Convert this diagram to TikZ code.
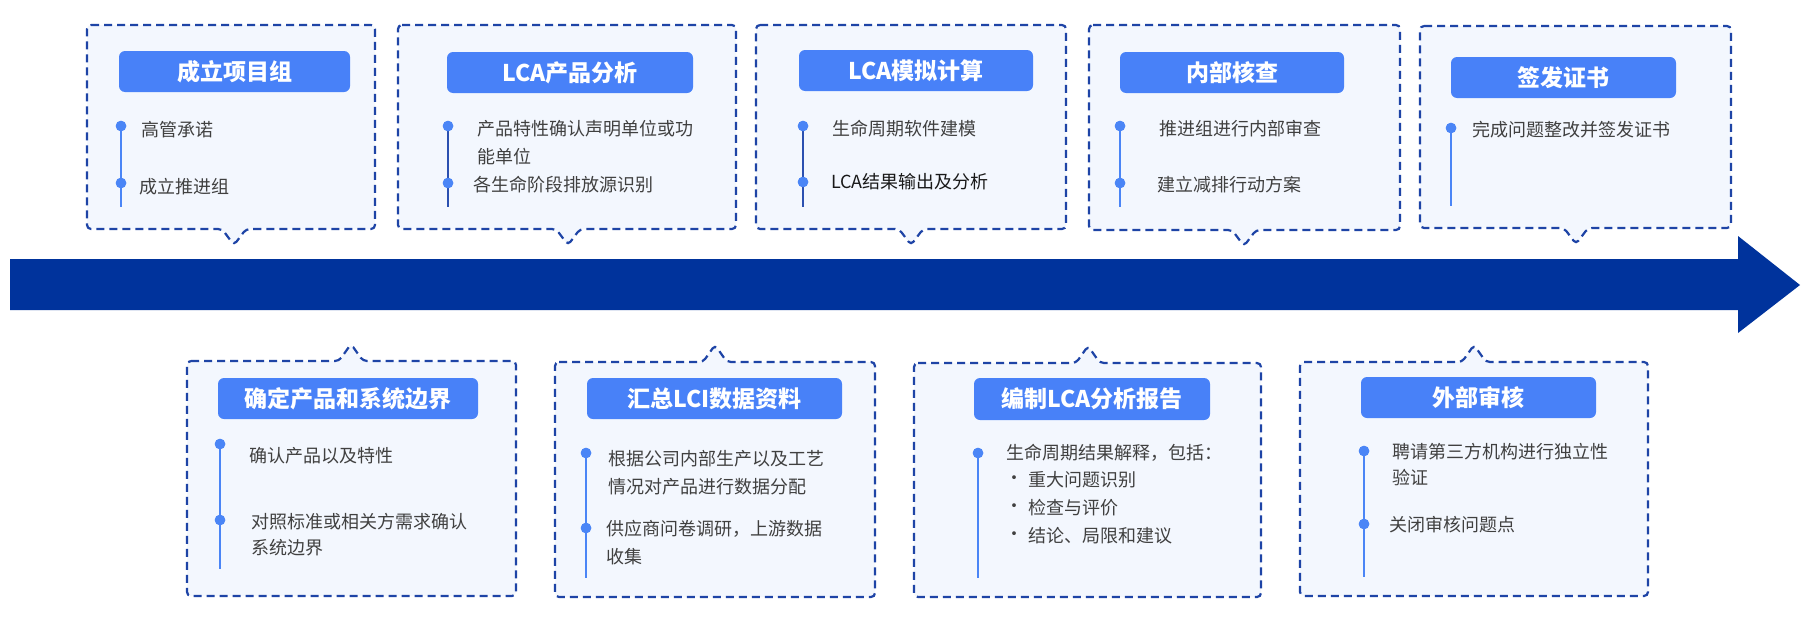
\documentclass[tikz,border=0pt]{standalone}
\usepackage{fontspec}
\setmainfont{Noto Sans CJK SC}
\definecolor{arrowblue}{RGB}{0,51,156}
\definecolor{borderblue}{RGB}{30,68,166}
\definecolor{boxfill}{RGB}{243,247,254}
\definecolor{pillblue}{RGB}{72,129,248}
\definecolor{dotblue}{RGB}{74,133,246}
\definecolor{darkline}{RGB}{43,80,176}
\definecolor{txtgray}{RGB}{64,64,64}
\tikzset{
  panel/.style={draw=borderblue, fill=boxfill, line width=2.2pt, dash pattern=on 8pt off 5pt, rounded corners=4pt},
  pill/.style={fill=pillblue, rounded corners=6pt, inner sep=0pt, text=white, font=\fontsize{23}{28}\selectfont\bfseries},
  itemtext/.style={anchor=west, inner sep=0pt, text=txtgray, font=\fontsize{18}{28}\selectfont},
  bdot/.style={circle, fill=dotblue, inner sep=0pt, minimum size=10.5pt},
  tline/.style={draw=dotblue, line width=2pt},
  tlinedark/.style={draw=darkline, line width=2pt}
}
\begin{document}
\begin{tikzpicture}[x=1pt,y=-1pt]
\useasboundingbox (0,0) rectangle (1806,616);
\fill[white] (0,0) rectangle (1806,616);

% main arrow
\fill[arrowblue] (10,259) -- (1738,259) -- (1738,236) -- (1800,285) -- (1738,333) -- (1738,310) -- (10,310) -- cycle;

% ---------- top panels ----------
\draw[panel] (87,25) -- (375,25) -- (375,229) -- (246,229) -- (234,245) -- (222,229) -- (87,229) -- cycle;
\draw[panel] (398,25) -- (736,25) -- (736,229) -- (580,229) -- (568,245) -- (556,229) -- (398,229) -- cycle;
\draw[panel] (756,25) -- (1066,25) -- (1066,229) -- (923,229) -- (911,245) -- (899,229) -- (756,229) -- cycle;
\draw[panel] (1089,25) -- (1400,25) -- (1400,230) -- (1256,230) -- (1244,246) -- (1232,230) -- (1089,230) -- cycle;
\draw[panel] (1420,26) -- (1731,26) -- (1731,228) -- (1588,228) -- (1576,244) -- (1564,228) -- (1420,228) -- cycle;

% ---------- bottom panels ----------
\draw[panel] (187,361) -- (339,361) -- (351,344) -- (363,361) -- (516,361) -- (516,596) -- (187,596) -- cycle;
\draw[panel] (555,362) -- (703,362) -- (715,345) -- (727,362) -- (875,362) -- (875,597) -- (555,597) -- cycle;
\draw[panel] (914,363) -- (1076,363) -- (1088,346) -- (1100,363) -- (1261,363) -- (1261,597) -- (914,597) -- cycle;
\draw[panel] (1300,362) -- (1462,362) -- (1474,345) -- (1486,362) -- (1648,362) -- (1648,596) -- (1300,596) -- cycle;

% ---------- titles ----------
\node[pill, minimum width=231pt, minimum height=41pt] (t1h) at (234.5,71.5) {成立项目组};
\node[pill, minimum width=246pt, minimum height=41pt] (t2h) at (570,72.5) {LCA产品分析};
\node[pill, minimum width=234pt, minimum height=41pt] (t3h) at (916,70.5) {LCA模拟计算};
\node[pill, minimum width=224pt, minimum height=41pt] (t4h) at (1232,72.5) {内部核查};
\node[pill, minimum width=225pt, minimum height=41pt] (t5h) at (1563.5,77.5) {签发证书};
\node[pill, minimum width=260pt, minimum height=41pt] (b1h) at (348,398.5) {确定产品和系统边界};
\node[pill, minimum width=255pt, minimum height=41pt] (b2h) at (714.5,398.5) {汇总LCI数据资料};
\node[pill, minimum width=236pt, minimum height=42pt] (b3h) at (1092,399) {编制LCA分析报告};
\node[pill, minimum width=235pt, minimum height=41pt] (b4h) at (1478.5,397.5) {外部审核};

% ---------- panel T1 ----------
\coordinate (t1e) at (121,207);
\node[bdot] (t1d1) at (121,126) {};
\node[bdot] (t1d2) at (121,183) {};
\draw[tline] (t1d1.center) -- (t1e);
\node[bdot] at (t1d1) {};
\node[bdot] at (t1d2) {};
\node[itemtext] (t1a) at (141,130) {高管承诺};
\node[itemtext] (t1b) at (139,187) {成立推进组};

% ---------- panel T2 ----------
\coordinate (t2e) at (448,207);
\node[bdot] (t2d1) at (448,126) {};
\node[bdot] (t2d2) at (448,183) {};
\draw[tlinedark] (t2d1.center) -- (t2e);
\node[bdot] at (t2d1) {};
\node[bdot] at (t2d2) {};
\node[itemtext] (t2a) at (477,129) {产品特性确认声明单位或功};
\node[itemtext] (t2a2) at (477,157) {能单位};
\node[itemtext] (t2b) at (473,185) {各生命阶段排放源识别};

% ---------- panel T3 ----------
\coordinate (t3e) at (803,207);
\node[bdot] (t3d1) at (803,126) {};
\node[bdot] (t3d2) at (803,182) {};
\draw[tlinedark] (t3d1.center) -- (t3e);
\node[bdot] at (t3d1) {};
\node[bdot] at (t3d2) {};
\node[itemtext] (t3a) at (832,129) {生命周期软件建模};
\node[itemtext, text=black!90] (t3b) at (831,182) {LCA结果输出及分析};

% ---------- panel T4 ----------
\coordinate (t4e) at (1120,207);
\node[bdot] (t4d1) at (1120,126) {};
\node[bdot] (t4d2) at (1120,183) {};
\draw[tline] (t4d1.center) -- (t4e);
\node[bdot] at (t4d1) {};
\node[bdot] at (t4d2) {};
\node[itemtext] (t4a) at (1159,129) {推进组进行内部审查};
\node[itemtext] (t4b) at (1157,185) {建立减排行动方案};

% ---------- panel T5 ----------
\coordinate (t5e) at (1451,206);
\node[bdot] (t5d1) at (1451,128) {};
\draw[tline] (t5d1.center) -- (t5e);
\node[bdot] at (t5d1) {};
\node[itemtext] (t5a) at (1472,130) {完成问题整改并签发证书};

% ---------- panel B1 ----------
\coordinate (b1e) at (220,569);
\node[bdot] (b1d1) at (220,444) {};
\node[bdot] (b1d2) at (220,520) {};
\draw[tline] (b1d1.center) -- (b1e);
\node[bdot] at (b1d1) {};
\node[bdot] at (b1d2) {};
\node[itemtext] (b1a) at (249,456) {确认产品以及特性};
\node[itemtext] (b1b) at (251,522) {对照标准或相关方需求确认};
\node[itemtext] (b1b2) at (251,548) {系统边界};

% ---------- panel B2 ----------
\coordinate (b2e) at (586,578);
\node[bdot] (b2d1) at (586,453) {};
\node[bdot] (b2d2) at (586,528) {};
\draw[tline] (b2d1.center) -- (b2e);
\node[bdot] at (b2d1) {};
\node[bdot] at (b2d2) {};
\node[itemtext] (b2a) at (608,459) {根据公司内部生产以及工艺};
\node[itemtext] (b2a2) at (608,487) {情况对产品进行数据分配};
\node[itemtext] (b2b) at (606,529) {供应商问卷调研，上游数据};
\node[itemtext] (b2b2) at (606,557) {收集};

% ---------- panel B3 ----------
\coordinate (b3e) at (978,578);
\node[bdot] (b3d1) at (978,453) {};
\draw[tline] (b3d1.center) -- (b3e);
\node[bdot] at (b3d1) {};
\node[itemtext] (b3a) at (1006,453) {生命周期结果解释，包括：};
\node[itemtext] (b3s1) at (1005,480) {•};
\node[itemtext] (b3a1) at (1028,480) {重大问题识别};
\node[itemtext] (b3s2) at (1005,508) {•};
\node[itemtext] (b3a2) at (1028,508) {检查与评价};
\node[itemtext] (b3s3) at (1005,536) {•};
\node[itemtext] (b3a3) at (1028,536) {结论、局限和建议};

% ---------- panel B4 ----------
\coordinate (b4e) at (1364,577);
\node[bdot] (b4d1) at (1364,451) {};
\node[bdot] (b4d2) at (1364,524) {};
\draw[tline] (b4d1.center) -- (b4e);
\node[bdot] at (b4d1) {};
\node[bdot] at (b4d2) {};
\node[itemtext] (b4a) at (1392,452) {聘请第三方机构进行独立性};
\node[itemtext] (b4a2) at (1392,478) {验证};
\node[itemtext] (b4b) at (1389,525) {关闭审核问题点};
\end{tikzpicture}
\end{document}
